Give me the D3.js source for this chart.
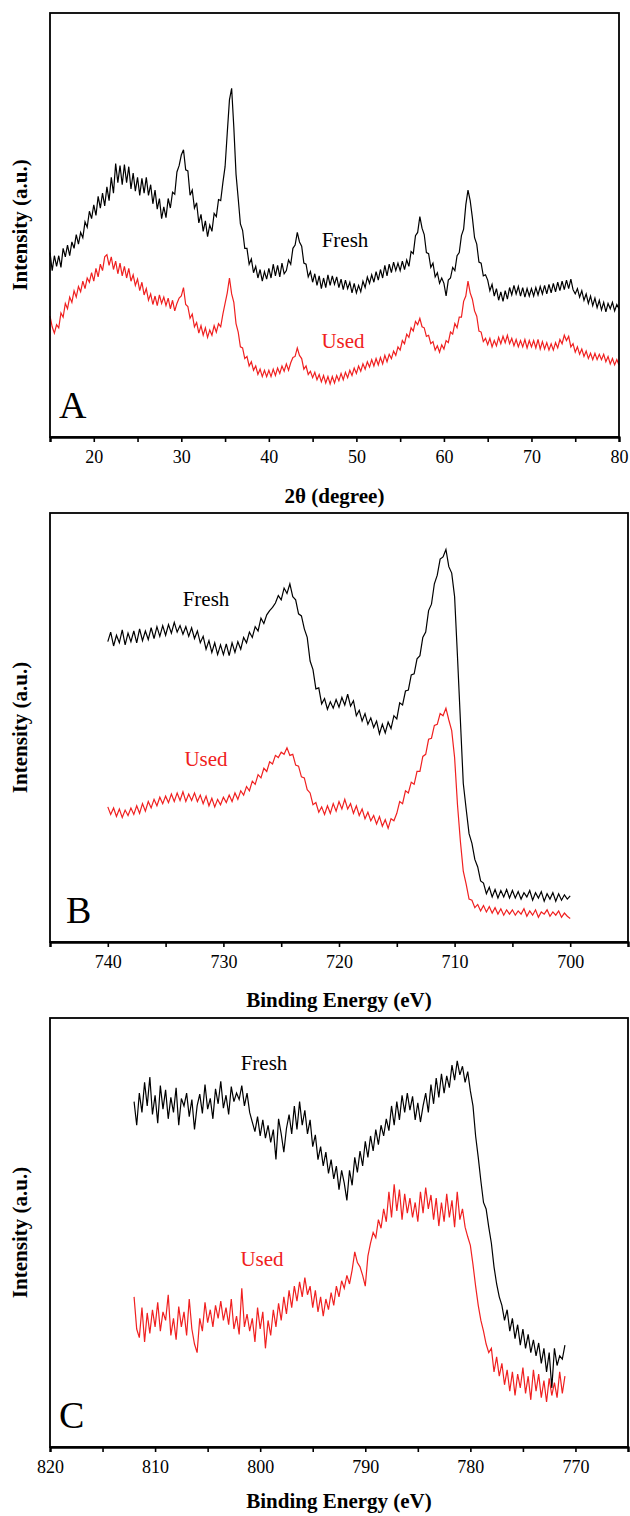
<!DOCTYPE html>
<html>
<head>
<meta charset="utf-8">
<script src="https://cdn.jsdelivr.net/npm/d3@7"></script>
<style>
  body { margin: 0; background: #fff; }
</style>
</head>
<body>
<script>
// scan settings (x of point i = start + i*step)
var xrdStart = 15, xrdStep = 0.25;
var feStart = 740, feStep = -0.25;
var coStart = 812, coStep = -0.25;

// tick labels
var xrdTicks = [20, 30, 40, 50, 60, 70, 80];
var xrdMinor = [15, 25, 35, 45, 55, 65, 75];
var feTicks = [740, 730, 720, 710, 700];
var feMinor = [745, 735, 725, 715, 705, 695];
var coTicks = [820, 810, 800, 790, 780, 770];
var coMinor = [815, 805, 795, 785, 775, 765];

// A: XRD, 15-80 deg
var xrdFresh = [
  174,157,171,161,171,160,178,170,181,171,184,178,191,182,193,188,203,198,213,206,
  219,209,227,216,230,218,236,223,245,230,258,240,256,238,257,240,255,234,249,232,
  245,228,244,230,245,228,238,220,233,215,225,206,217,207,225,216,231,229,250,256,
  266,271,252,251,228,233,216,221,202,210,194,204,189,200,194,211,208,224,223,240,
  255,287,318,329,292,248,225,201,195,178,178,163,168,155,161,150,158,147,156,149,
  159,150,163,152,162,151,164,154,157,167,163,178,181,193,184,180,164,163,151,156,
  146,154,143,152,140,150,141,153,143,152,144,151,141,149,139,148,140,146,136,145,
  136,143,137,147,141,151,145,153,146,156,148,158,150,162,152,163,155,165,157,164,
  157,166,158,167,161,175,173,190,193,208,197,191,174,173,160,164,151,155,145,150,
  145,133,148,150,160,157,171,174,190,196,219,233,223,207,188,182,165,164,152,153,
  148,138,144,133,140,129,137,128,138,130,141,134,143,135,142,133,141,132,140,133,
  140,133,141,134,142,135,143,135,144,136,145,137,146,138,147,139,148,140,149,139,
  135,140,132,138,129,135,126,133,124,131,122,129,120,127,118,126,121,127,119,125,121
];
var xrdUsed = [
  114,104,98,106,103,117,113,126,121,132,127,138,132,142,137,147,140,150,146,155,
  147,159,151,163,157,170,172,162,170,158,166,154,164,152,161,150,159,147,153,143,
  149,138,146,134,140,129,135,125,133,124,134,126,132,124,131,121,129,119,126,131,
  133,141,125,123,112,116,104,108,98,105,96,103,94,101,96,105,99,107,104,116,
  126,136,150,135,127,107,99,85,84,74,76,67,71,63,67,59,64,57,63,57,
  63,57,64,58,65,60,67,62,69,63,70,75,76,84,77,74,64,67,59,62,
  56,61,54,59,52,58,51,57,50,57,51,58,53,60,54,61,56,63,58,65,
  60,67,62,69,64,71,66,73,67,74,68,75,69,77,71,78,74,81,77,85,
  82,91,88,97,94,103,100,109,106,112,104,103,95,96,88,90,82,86,80,87,
  83,91,89,99,97,107,103,113,113,128,133,147,136,130,119,114,100,99,90,93,
  87,93,85,91,86,94,88,95,89,96,88,93,86,92,85,91,85,92,84,91,
  85,91,84,92,83,90,83,89,82,88,82,89,84,92,88,96,91,95,85,88,
  80,85,78,83,76,81,74,79,73,79,73,78,73,78,71,76,69,74,68,73,68
];

// B: Fe 2p, 740 -> 700 eV
var feFresh = [
  280,289,276,286,279,291,277,288,280,290,279,292,281,290,282,293,283,294,285,295,
  286,296,288,298,289,295,287,294,285,293,283,290,279,285,273,281,270,279,268,277,
  268,278,267,279,270,280,273,284,279,289,284,294,290,302,297,305,309,312,316,323,
  319,330,325,334,322,319,306,304,292,284,262,254,236,237,222,227,217,224,218,226,
  219,228,221,231,220,225,211,216,206,213,203,209,200,206,194,203,195,205,199,211,
  208,223,221,234,235,249,250,264,267,284,289,309,315,334,342,357,359,366,350,344,
  322,266,207,148,124,101,92,77,70,57,55,45,51,42,49,41,48,42,49,41,
  48,41,47,40,46,42,48,39,46,41,47,38,45,40,46,38,45,39,44,40,43
];
var feUsed = [
  126,119,125,117,124,116,123,118,125,119,127,120,129,122,131,125,133,127,135,129,
  136,130,138,131,139,132,140,131,138,132,139,131,137,129,136,127,134,126,133,128,
  135,130,137,131,139,133,141,137,145,141,150,147,156,153,162,159,168,166,174,172,
  177,175,181,174,175,165,164,154,153,142,139,128,130,121,126,119,127,120,129,122,
  131,124,133,124,129,120,127,118,124,115,121,113,118,110,117,108,114,106,115,113,
  120,131,129,141,139,149,147,159,159,173,175,189,190,202,203,213,211,218,207,197,
  172,128,94,66,54,40,39,32,35,29,34,28,33,27,32,26,31,25,30,26,
  30,25,29,26,31,24,29,25,30,23,28,26,30,24,28,25,29,23,27,24,22
];

// C: Co 2p, 812 -> 771 eV
var coFresh = [
  322,300,330,312,340,318,345,310,328,302,337,315,333,306,326,312,335,300,325,318,
  330,308,324,296,318,329,311,338,315,325,306,334,320,341,316,328,310,336,322,330,
  324,337,318,330,312,303,294,308,290,305,288,300,284,296,268,306,292,275,297,310,
  292,318,296,322,300,314,292,305,280,291,268,280,262,275,255,268,250,262,240,258,
  246,230,258,244,270,256,276,262,285,270,290,276,296,282,300,290,306,295,318,300,
  322,305,328,312,330,314,327,305,321,303,318,330,312,338,320,344,326,348,330,346,
  335,356,342,360,347,355,340,350,332,318,290,270,248,228,222,205,190,168,152,140,
  132,118,128,108,120,101,114,95,110,92,105,88,100,85,97,78,92,70,88,55,
  92,76,85,82,95
];
var coUsed = [
  140,110,102,130,98,125,106,128,112,135,108,126,118,142,104,120,100,131,112,126,
  104,138,110,96,88,120,108,135,116,128,112,132,120,136,118,130,114,138,110,122,
  105,148,112,124,108,120,98,130,110,126,92,118,104,128,112,134,118,140,124,146,
  130,150,136,154,140,158,142,150,130,146,126,140,122,138,128,144,132,150,140,155,
  148,160,152,165,182,172,168,160,150,178,190,200,195,212,204,222,210,238,214,245,
  220,240,212,236,218,232,214,228,210,238,218,242,222,235,212,232,206,228,210,236,
  214,230,205,238,212,222,205,196,188,170,150,132,118,108,96,88,92,70,84,66,
  78,58,72,52,70,48,68,55,74,50,66,44,72,52,68,46,62,42,64,48,
  60,46,70,50,66
];

var serif = 'Liberation Serif, DejaVu Serif, serif';

var svg = d3.select('body').append('svg')
    .attr('width', 630)
    .attr('height', 1516)
    .attr('font-family', serif);

var panels = [
  {dom: [15, 80], ticks: xrdTicks, minor: xrdMinor, start: xrdStart, step: xrdStep,
   fresh: xrdFresh, used: xrdUsed, top: 13, bottom: 437, right: 619, ty: 503,
   letter: 'A', title: '2\u03b8 (degree)', lx: 59, fl: [345, 247], ul: [343, 348]},
  {dom: [745, 695], ticks: feTicks, minor: feMinor, start: feStart, step: feStep,
   fresh: feFresh, used: feUsed, top: 513, bottom: 942, right: 628, ty: 1007,
   letter: 'B', title: 'Binding Energy (eV)', lx: 66, fl: [206, 606], ul: [206, 766]},
  {dom: [820, 765], ticks: coTicks, minor: coMinor, start: coStart, step: coStep,
   fresh: coFresh, used: coUsed, top: 1018, bottom: 1447, right: 628, ty: 1508,
   letter: 'C', title: 'Binding Energy (eV)', lx: 59, fl: [264, 1070], ul: [262, 1266]}
];

var left = 50;
var red = '#f02020';

panels.forEach(function(p) {
  var x = d3.scaleLinear().domain(p.dom).range([left, p.right]);
  var y = d3.scaleLinear().domain([0, 400]).range([p.bottom, p.top]);

  var line = d3.line()
      .x(function(d, i) { return x(p.start + i * p.step); })
      .y(function(d) { return y(d); });

  svg.append('path').datum(p.fresh)
      .attr('d', line)
      .attr('fill', 'none')
      .attr('stroke', '#000')
      .attr('stroke-width', 1.2);

  svg.append('path').datum(p.used)
      .attr('d', line)
      .attr('fill', 'none')
      .attr('stroke', red)
      .attr('stroke-width', 1.2);

  // frame
  svg.append('rect')
      .attr('x', left).attr('y', p.top)
      .attr('width', p.right - left).attr('height', p.bottom - p.top)
      .attr('fill', 'none').attr('stroke', '#000').attr('stroke-width', 1.8);

  var major = svg.append('g')
      .attr('transform', 'translate(0,' + p.bottom + ')')
      .call(d3.axisBottom(x).tickValues(p.ticks).tickSize(5).tickPadding(8)
            .tickFormat(d3.format('d')));
  var minor = svg.append('g')
      .attr('transform', 'translate(0,' + p.bottom + ')')
      .call(d3.axisBottom(x).tickValues(p.minor).tickSize(5).tickFormat(''));

  [major, minor].forEach(function(g) {
    g.attr('font-family', serif);
    g.select('.domain').attr('stroke-width', 1.8);
    g.selectAll('.tick line').attr('stroke-width', 1.6);
  });
  major.selectAll('.tick text')
      .attr('font-family', serif)
      .attr('font-size', 18)
      .attr('fill', '#000');

  svg.append('text')
      .text(p.title)
      .attr('x', (left + p.right) / 2)
      .attr('y', p.ty)
      .attr('text-anchor', 'middle')
      .attr('font-family', serif)
      .attr('font-size', 21)
      .attr('font-weight', 'bold');

  svg.append('text')
      .text('Intensity (a.u.)')
      .attr('transform', 'translate(27,' + (p.top + p.bottom) / 2 + ') rotate(-90)')
      .attr('text-anchor', 'middle')
      .attr('font-family', serif)
      .attr('font-size', 21)
      .attr('font-weight', 'bold');

  svg.append('text')
      .text(p.letter)
      .attr('x', p.lx)
      .attr('y', p.bottom - 19)
      .attr('font-family', serif)
      .attr('font-size', 38);

  svg.append('text')
      .text('Fresh')
      .attr('x', p.fl[0]).attr('y', p.fl[1])
      .attr('text-anchor', 'middle')
      .attr('font-family', serif)
      .attr('font-size', 21);

  svg.append('text')
      .text('Used')
      .attr('x', p.ul[0]).attr('y', p.ul[1])
      .attr('text-anchor', 'middle')
      .attr('font-family', serif)
      .attr('font-size', 21)
      .attr('fill', red);
});
</script>
</body>
</html>
